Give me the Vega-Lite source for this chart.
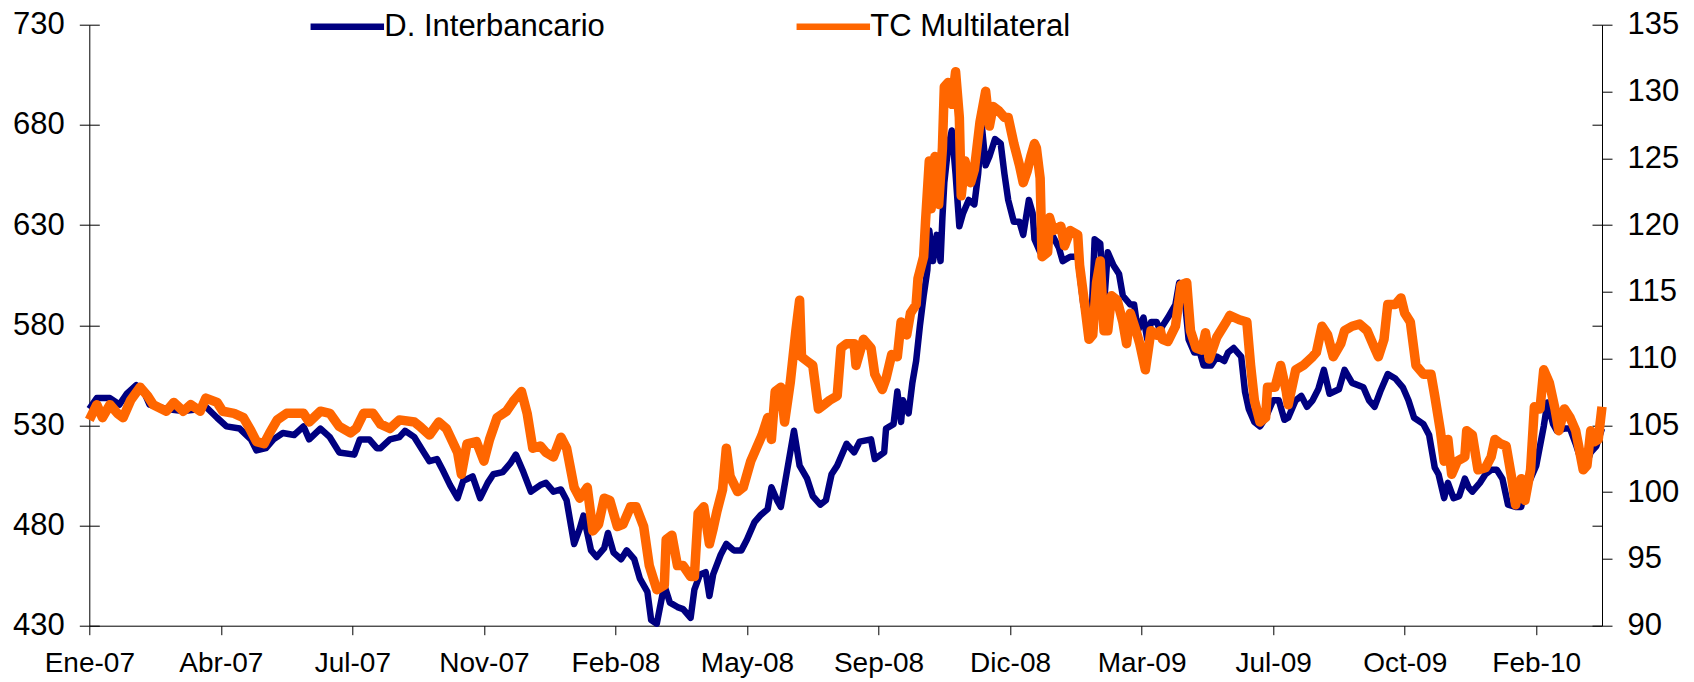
{
  "$schema": "https://vega.github.io/schema/vega-lite/v6.json",
  "autosize": {"type": "none"},
  "width": 1512.7,
  "height": 601,
  "padding": {"left": 89.3, "top": 24.7, "right": 92, "bottom": 56.3},
  "background": "white",
  "config": {
    "view": {"stroke": null},
    "font": "Liberation Sans",
    "axis": {"domainColor": "black", "tickColor": "black", "labelColor": "black", "grid": false, "title": null, "labelFont": "Liberation Sans", "domainWidth": 1, "tickWidth": 1}
  },
  "datasets": {
    "interbancario": [
      {"t":0,"v":538.2},{"t":4,"v":543.6},{"t":11,"v":543.6},{"t":16,"v":540.4},{"t":20,"v":545.8},{"t":25,"v":550.1},{"t":29,"v":546.9},{"t":32,"v":540.4},{"t":41,"v":538.2},{"t":50,"v":537.1},{"t":59,"v":538.2},{"t":62,"v":539.3},{"t":68,"v":533.8},{"t":73,"v":529.5},{"t":80,"v":528.4},{"t":86,"v":523.0},{"t":89,"v":517.5},{"t":94,"v":518.6},{"t":98,"v":523.0},{"t":103,"v":526.2},{"t":109,"v":525.2},{"t":114,"v":529.5},{"t":117,"v":523.0},{"t":123,"v":528.4},{"t":128,"v":524.1},{"t":133,"v":516.5},{"t":141,"v":515.4},{"t":144,"v":523.0},{"t":149,"v":523.0},{"t":153,"v":518.6},
      {"t":155,"v":518.6},{"t":160,"v":523.0},{"t":165,"v":524.1},{"t":168,"v":527.3},{"t":173,"v":524.1},{"t":178,"v":516.5},{"t":181,"v":512.1},{"t":185,"v":513.2},{"t":188,"v":507.8},{"t":192,"v":500.2},{"t":196,"v":493.7},{"t":199,"v":502.3},{"t":204,"v":504.5},{"t":208,"v":493.7},{"t":212,"v":501.3},{"t":215,"v":505.6},{"t":220,"v":506.7},{"t":224,"v":511.0},{"t":227,"v":515.4},{"t":231,"v":506.7},{"t":235,"v":496.9},{"t":240,"v":500.2},{"t":243,"v":501.3},{"t":247,"v":496.9},{"t":251,"v":498.0},{"t":254,"v":492.6},{"t":258,"v":470.8},{"t":261,"v":478.4},{"t":263,"v":485.0},{"t":267,"v":467.6},{"t":270,"v":464.3},{"t":274,"v":468.7},{"t":276,"v":476.3},{"t":279,"v":466.5},{"t":283,"v":463.2},{"t":286,"v":467.6},{"t":290,"v":463.2},{"t":293,"v":453.5},{"t":297,"v":446.9},{"t":299,"v":432.8},{"t":302,"v":431.0},{"t":306,"v":450.2},{"t":309,"v":441.5},{"t":313,"v":439.3},{"t":316,"v":438.3},{"t":320,"v":433.9},{"t":322,"v":448.0},{"t":325,"v":455.6},{"t":328,"v":456.7},{"t":330,"v":444.8},{"t":332,"v":455.6},{"t":336,"v":465.4},{"t":339,"v":470.8},{"t":343,"v":467.6},{"t":347,"v":467.6},{"t":350,"v":473.0},{"t":354,"v":481.7},{"t":357,"v":485.0},{"t":361,"v":488.2},{"t":363,"v":499.1},{"t":366,"v":492.6},{"t":368,"v":489.3},
      {"t":371,"v":505.6},{"t":375,"v":527.3},{"t":378,"v":509.9},{"t":382,"v":503.4},{"t":385,"v":494.7},{"t":389,"v":490.4},{"t":392,"v":492.6},{"t":395,"v":505.6},{"t":398,"v":509.9},{"t":403,"v":520.8},{"t":407,"v":516.5},{"t":410,"v":521.9},{"t":416,"v":523.0},{"t":418,"v":513.2},{"t":423,"v":516.5},{"t":424,"v":528.4},{"t":428,"v":530.6},{"t":430,"v":546.9},{"t":432,"v":531.7},{"t":433,"v":542.5},{"t":436,"v":536.0},{"t":438,"v":551.2},{"t":440,"v":562.1},{"t":442,"v":579.5},{"t":444,"v":594.7},{"t":446,"v":607.7},{"t":447,"v":627.3},{"t":449,"v":612.0},{"t":451,"v":625.1},{"t":453,"v":612.0},{"t":454,"v":633.8},{"t":455,"v":651.1},{"t":457,"v":668.5},{"t":459,"v":677.2},{"t":461,"v":655.5},{"t":463,"v":629.4},{"t":465,"v":635.9},{"t":468,"v":642.5},{"t":471,"v":640.3},{"t":473,"v":655.5},{"t":475,"v":679.4},{"t":477,"v":659.8},{"t":479,"v":664.2},{"t":482,"v":672.9},{"t":485,"v":670.7},{"t":487,"v":655.5},{"t":489,"v":642.5},{"t":492,"v":631.6},{"t":495,"v":631.6},{"t":497,"v":625.1},{"t":500,"v":642.5},{"t":502,"v":635.9},{"t":503,"v":622.9},{"t":506,"v":616.4},{"t":510,"v":620.7},{"t":513,"v":624.0},{"t":516,"v":618.6},{"t":518,"v":612.0},{"t":522,"v":614.2},{"t":526,"v":614.2},{"t":529,"v":590.3},{"t":533,"v":575.1},{"t":535,"v":622.9},{"t":538,"v":620.7},{"t":540,"v":590.3},{"t":542,"v":616.4},{"t":545,"v":609.9},{"t":548,"v":605.5},{"t":550,"v":594.7},{"t":554,"v":590.3},{"t":556,"v":590.3},{"t":558,"v":577.3},{"t":561,"v":583.8},{"t":563,"v":572.9},{"t":565,"v":581.6},{"t":568,"v":581.6},{"t":570,"v":577.3},
      {"t":571,"v":579.5},{"t":574,"v":583.8},{"t":578,"v":590.3},{"t":580,"v":601.2},{"t":583,"v":592.5},{"t":585,"v":572.9},{"t":588,"v":566.4},{"t":591,"v":566.4},{"t":593,"v":559.9},{"t":597,"v":559.9},{"t":600,"v":564.3},{"t":604,"v":562.1},{"t":606,"v":566.4},{"t":609,"v":568.6},{"t":613,"v":564.3},{"t":615,"v":546.9},{"t":617,"v":538.2},{"t":620,"v":531.7},{"t":623,"v":529.5},{"t":626,"v":533.8},{"t":630,"v":542.5},{"t":633,"v":542.5},{"t":636,"v":532.8},{"t":638,"v":533.8},{"t":642,"v":542.5},{"t":645,"v":544.7},{"t":648,"v":539.3},{"t":651,"v":542.5},{"t":654,"v":548.0},{"t":657,"v":557.7},{"t":660,"v":545.8},{"t":665,"v":548.0},{"t":668,"v":557.7},{"t":672,"v":551.2},{"t":678,"v":549.0},{"t":681,"v":542.5},{"t":684,"v":539.3},{"t":687,"v":546.9},{"t":691,"v":555.6},{"t":695,"v":553.4},{"t":699,"v":549.0},{"t":702,"v":542.5},{"t":705,"v":533.8},{"t":710,"v":530.6},{"t":713,"v":525.2},{"t":716,"v":508.9},{"t":718,"v":505.6},{"t":721,"v":493.7},{"t":723,"v":501.3},{"t":726,"v":493.7},{"t":729,"v":494.7},{"t":732,"v":503.4},{"t":734,"v":499.1},{"t":736,"v":496.9},{"t":740,"v":501.3},{"t":743,"v":505.6},{"t":746,"v":507.8},{"t":749,"v":507.8},{"t":752,"v":503.4},{"t":755,"v":490.4},{"t":759,"v":489.3},{"t":762,"v":489.3},{"t":763,"v":493.7},{"t":766,"v":501.3},{"t":770,"v":509.9},{"t":774,"v":529.5},{"t":776,"v":541.4},{"t":779,"v":530.6},{"t":781,"v":527.3},{"t":785,"v":528.4},{"t":788,"v":528.4},{"t":791,"v":520.8},{"t":794,"v":512.1},{"t":796,"v":508.9},{"t":799,"v":516.5},{"t":802,"v":519.7},{"t":805,"v":528.4}
    ],
    "multilateral": [
      {"t":0,"w":105.41},{"t":4,"w":106.55},{"t":7,"w":105.58},{"t":11,"w":106.55},{"t":15,"w":105.9},{"t":18,"w":105.58},{"t":22,"w":106.88},{"t":27,"w":107.86},{"t":31,"w":107.21},{"t":34,"w":106.55},{"t":41,"w":106.06},{"t":45,"w":106.72},{"t":50,"w":106.06},{"t":54,"w":106.55},{"t":59,"w":106.06},{"t":62,"w":107.04},{"t":68,"w":106.72},{"t":71,"w":106.06},{"t":77,"w":105.9},{"t":82,"w":105.58},{"t":86,"w":104.6},{"t":89,"w":103.78},{"t":93,"w":103.62},{"t":96,"w":104.44},{"t":100,"w":105.41},{"t":105,"w":105.9},{"t":110,"w":105.9},{"t":114,"w":105.9},{"t":117,"w":105.25},{"t":123,"w":106.06},{"t":128,"w":105.9},{"t":133,"w":104.92},{"t":139,"w":104.44},{"t":142,"w":104.76},{"t":146,"w":105.9},{"t":151,"w":105.9},{"t":155,"w":105.09},{"t":160,"w":104.76},{"t":165,"w":105.41},
      {"t":173,"w":105.25},{"t":176,"w":104.92},{"t":181,"w":104.27},{"t":186,"w":105.25},{"t":190,"w":104.76},{"t":196,"w":102.97},{"t":198,"w":101.34},{"t":201,"w":103.62},{"t":206,"w":103.78},{"t":210,"w":102.32},{"t":213,"w":103.95},{"t":217,"w":105.58},{"t":222,"w":106.06},{"t":226,"w":106.88},{"t":230,"w":107.53},{"t":233,"w":105.9},{"t":236,"w":103.29},{"t":240,"w":103.46},{"t":243,"w":102.97},{"t":247,"w":102.64},{"t":251,"w":104.11},{"t":254,"w":103.29},{"t":258,"w":100.36},{"t":261,"w":99.55},{"t":265,"w":100.36},{"t":268,"w":97.1},{"t":271,"w":97.59},{"t":274,"w":99.55},{"t":277,"w":99.38},{"t":281,"w":97.43},{"t":284,"w":97.59},{"t":288,"w":98.9},{"t":291,"w":98.9},{"t":295,"w":97.43},{"t":298,"w":94.5},{"t":302,"w":92.7},{"t":306,"w":93.03},{"t":307,"w":96.45},{"t":310,"w":96.78},{"t":313,"w":94.5},{"t":316,"w":94.5},{"t":320,"w":93.68},{"t":322,"w":93.68},{"t":324,"w":98.41},{"t":327,"w":98.9},{"t":330,"w":96.13},{"t":332,"w":97.27},{"t":334,"w":98.57},{"t":337,"w":100.2},{"t":339,"w":103.29},{"t":341,"w":101.18},{"t":345,"w":100.04},{"t":348,"w":100.36},{"t":352,"w":102.32},{"t":355,"w":103.29},{"t":358,"w":104.27},{"t":361,"w":105.58},{"t":363,"w":103.95},{"t":365,"w":107.53},{"t":368,"w":107.86},
      {"t":370,"w":105.25},{"t":373,"w":108.18},{"t":376,"w":112.09},{"t":378,"w":114.37},{"t":379,"w":110.14},{"t":382,"w":109.81},{"t":385,"w":109.49},{"t":388,"w":106.23},{"t":391,"w":106.55},{"t":394,"w":106.88},{"t":398,"w":107.21},{"t":400,"w":110.79},{"t":403,"w":111.12},{"t":407,"w":111.12},{"t":408,"w":109.49},{"t":412,"w":111.44},{"t":416,"w":110.79},{"t":418,"w":108.83},{"t":422,"w":107.69},{"t":424,"w":108.51},{"t":427,"w":110.3},{"t":430,"w":110.14},{"t":432,"w":112.74},{"t":435,"w":111.77},{"t":437,"w":113.4},{"t":440,"w":114.05},{"t":441,"w":116.0},{"t":444,"w":117.63},{"t":445,"w":120.24},{"t":447,"w":124.8},{"t":448,"w":121.22},{"t":450,"w":125.13},{"t":452,"w":121.54},{"t":454,"w":125.78},{"t":455,"w":130.34},{"t":457,"w":130.67},{"t":459,"w":129.04},{"t":461,"w":131.48},{"t":463,"w":128.06},{"t":464,"w":122.19},{"t":466,"w":124.8},{"t":469,"w":123.17},{"t":471,"w":124.15},{"t":474,"w":127.73},{"t":477,"w":130.01},{"t":479,"w":127.41},{"t":481,"w":128.87},{"t":484,"w":128.55},{"t":487,"w":128.06},{"t":489,"w":128.06},{"t":492,"w":126.1},{"t":495,"w":124.48},{"t":497,"w":123.17},{"t":499,"w":123.99},{"t":501,"w":125.13},{"t":503,"w":126.1},{"t":504,"w":125.78},{"t":506,"w":123.5},{"t":507,"w":117.63},{"t":510,"w":117.96},{"t":511,"w":120.56},{"t":513,"w":119.59},{"t":517,"w":119.91},{"t":519,"w":118.45},{"t":522,"w":119.59},{"t":526,"w":119.26},{"t":527,"w":116.98},{"t":530,"w":113.72},{"t":532,"w":111.44},{"t":534,"w":111.77},{"t":536,"w":115.68},{"t":538,"w":117.31},{"t":540,"w":112.09},{"t":542,"w":112.09},{"t":544,"w":114.7},{"t":547,"w":114.37},{"t":550,"w":112.74},{"t":552,"w":111.12},{"t":554,"w":113.4},{"t":557,"w":112.09},{"t":559,"w":111.12},{"t":562,"w":109.16},{"t":565,"w":112.09},{"t":568,"w":111.77},{"t":570,"w":112.09},
      {"t":571,"w":111.44},{"t":574,"w":111.28},{"t":578,"w":112.42},{"t":581,"w":115.51},{"t":584,"w":115.68},{"t":586,"w":112.09},{"t":589,"w":110.79},{"t":592,"w":110.63},{"t":594,"w":111.93},{"t":596,"w":109.97},{"t":600,"w":111.6},{"t":605,"w":112.74},{"t":607,"w":113.23},{"t":612,"w":112.91},{"t":616,"w":112.74},{"t":618,"w":109.49},{"t":620,"w":106.88},{"t":623,"w":105.25},{"t":626,"w":105.58},{"t":627,"w":107.86},{"t":631,"w":107.86},{"t":634,"w":109.49},{"t":637,"w":107.53},{"t":638,"w":106.55},{"t":642,"w":109.16},{"t":646,"w":109.49},{"t":651,"w":110.14},{"t":653,"w":110.46},{"t":656,"w":112.42},{"t":659,"w":111.77},{"t":662,"w":110.14},{"t":666,"w":111.12},{"t":668,"w":112.09},{"t":672,"w":112.42},{"t":676,"w":112.58},{"t":680,"w":112.09},{"t":684,"w":110.79},{"t":686,"w":110.14},{"t":689,"w":111.44},{"t":691,"w":114.05},{"t":695,"w":114.05},{"t":698,"w":114.54},{"t":700,"w":113.4},{"t":703,"w":112.74},{"t":706,"w":109.49},{"t":710,"w":108.83},{"t":714,"w":108.83},{"t":716,"w":107.21},{"t":719,"w":104.6},{"t":721,"w":102.32},{"t":723,"w":103.95},{"t":725,"w":101.34},{"t":728,"w":102.32},{"t":732,"w":102.64},{"t":733,"w":104.6},{"t":736,"w":104.27},{"t":739,"w":101.67},{"t":743,"w":101.83},{"t":746,"w":102.64},{"t":748,"w":103.95},{"t":751,"w":103.62},{"t":754,"w":103.46},{"t":757,"w":101.01},{"t":759,"w":99.06},{"t":762,"w":101.01},{"t":764,"w":99.38},{"t":767,"w":101.67},{"t":769,"w":106.39},{"t":772,"w":106.23},{"t":774,"w":109.16},{"t":777,"w":108.18},{"t":780,"w":106.23},{"t":782,"w":104.6},{"t":785,"w":106.23},{"t":788,"w":105.58},{"t":791,"w":104.6},{"t":795,"w":101.67},{"t":797,"w":101.99},{"t":799,"w":104.6},{"t":801,"w":103.78},{"t":803,"w":103.95},{"t":805,"w":106.39}
    ]
  },
  "layer": [
    {
      "data": {"name": "interbancario"},
      "mark": {"type": "line", "strokeOpacity": 0},
      "encoding": {
        "x": {"field": "t", "type": "quantitative", "scale": {"domain": [0, 805], "nice": false, "zero": false}},
        "y": {"field": "v", "type": "quantitative", "scale": {"domain": [430, 730], "nice": false, "zero": false},
              "axis": {"orient": "left", "values": [430,480,530,580,630,680,730], "labels": false, "domain": false, "tickSize": -10, "offset": 0}}
      }
    },
    {
      "data": {"name": "interbancario"},
      "mark": {"type": "line", "strokeOpacity": 0},
      "encoding": {
        "x": {"field": "t", "type": "quantitative", "scale": {"domain": [0, 805], "nice": false, "zero": false}},
        "y": {"field": "v", "type": "quantitative", "scale": {"domain": [430, 730], "nice": false, "zero": false},
              "axis": {"orient": "right", "values": [430,480,530,580,630,680,730], "labels": false, "domain": false, "tickSize": -10, "offset": 0}}
      }
    },
    {
      "data": {"name": "interbancario"},
      "mark": {"type": "line", "strokeWidth": 6.5, "strokeJoin": "round", "strokeCap": "butt"},
      "encoding": {
        "x": {"field": "t", "type": "quantitative", "scale": {"domain": [0, 805], "nice": false, "zero": false},
              "axis": {"values": [0,70,140,210,280,350,420,490,560,630,700,770], "labelExpr": "['Ene-07','Abr-07','Jul-07','Nov-07','Feb-08','May-08','Sep-08','Dic-08','Mar-09','Jul-09','Oct-09','Feb-10'][round(datum.value/70)]", "labelFontSize": 28, "tickSize": 9, "labelPadding": 15, "labelFlush": false, "labelOverlap": false}},
        "y": {"field": "v", "type": "quantitative", "scale": {"domain": [430, 730], "nice": false, "zero": false},
              "axis": {"orient": "left", "values": [430,480,530,580,630,680,730], "labelFontSize": 31, "tickSize": 10, "labelPadding": 15}},
        "color": {"datum": "D. Interbancario", "type": "nominal",
                  "scale": {"domain": ["D. Interbancario", "TC Multilateral"], "range": ["#000080", "#FF6600"]},
                  "legend": {"title": null, "orient": "none", "legendX": 218, "legendY": -38, "direction": "horizontal", "symbolType": "stroke", "symbolSize": 5400, "symbolStrokeWidth": 6.5, "labelFontSize": 31, "labelFont": "Liberation Sans", "labelColor": "black", "labelOffset": -3, "columnPadding": 178, "padding": 0, "labelLimit": 400}}
      }
    },
    {
      "data": {"name": "multilateral"},
      "mark": {"type": "line", "strokeWidth": 9.5, "strokeJoin": "round", "strokeCap": "butt"},
      "encoding": {
        "x": {"field": "t", "type": "quantitative", "scale": {"domain": [0, 805], "nice": false, "zero": false}},
        "y": {"field": "w", "type": "quantitative", "scale": {"domain": [90, 135], "nice": false, "zero": false},
              "axis": {"orient": "right", "values": [90,95,100,105,110,115,120,125,130,135], "labelFontSize": 31, "tickSize": 10, "labelPadding": 15}},
        "color": {"datum": "TC Multilateral", "type": "nominal"}
      }
    }
  ],
  "resolve": {"scale": {"y": "independent"}}
}
